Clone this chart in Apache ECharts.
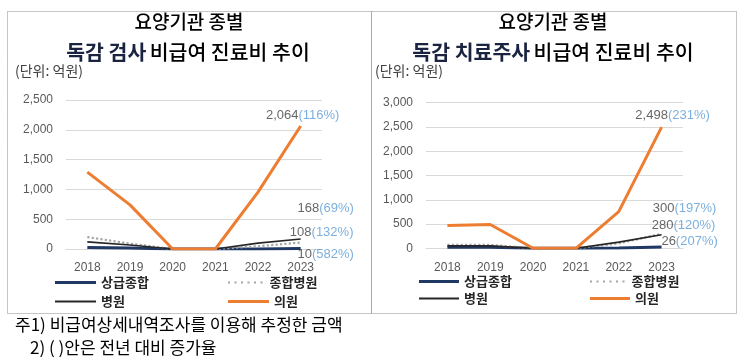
<!DOCTYPE html>
<html><head><meta charset="utf-8">
<script src="https://cdn.jsdelivr.net/npm/echarts@6/dist/echarts.min.js"></script>
<style>html,body{margin:0;padding:0;background:#fff}#c{width:745px;height:363px}</style>
</head><body><div id="c"></div>
<script>
// ---- data ----
const years = ['2018', '2019', '2020', '2021', '2022', '2023'];
const seriesNames = ['상급종합', '종합병원', '병원', '의원'];
// 독감 검사 (left)
const testTertiary = [25, 15, 0, 0, 1.5, 10];
const testGeneral = [200, 90, 0, 0, 46.5, 108];
const testHospital = [120, 67, 0, 0, 99, 168];
const testClinic = [1290, 740, 0, 0, 955, 2064];
const testGrowth = ['582%', '132%', '69%', '116%'];
// 독감 치료주사 (right)
const injTertiary = [20, 20, 0, 0, 8.5, 26];
const injGeneral = [70, 70, 0, 0, 101, 300];
const injHospital = [50, 50, 0, 0, 127, 280];
const injClinic = [470, 490, 0, 0, 755, 2498];
const injGrowth = ['207%', '197%', '120%', '231%'];
const leftTicks = { max: 2500, interval: 500 };
const rightTicks = { max: 3000, interval: 500 };

// ---- styles ----
const colors = ['#203864', '#A5A5A5', '#262626', '#ED7D31'];
const widths = [3, 2.2, 1.6, 3];
const types = ['solid', 'dotted', 'solid', 'solid'];
const FONT = '"Liberation Sans", Arial, sans-serif';
const KFONT = '"Noto Sans CJK KR", sans-serif';

const chart = echarts.init(document.getElementById('c'), null, { renderer: 'canvas' });

function fmt(v) { return v.toLocaleString('en-US'); }

function buildPanel(idx, sets, growth, ticks, grid, offsets) {
  const gi = idx;
  const xAxis = {
    type: 'category', data: years, gridIndex: gi, boundaryGap: true,
    axisLine: { show: true, lineStyle: { color: '#D9D9D9' } },
    axisTick: { show: false },
    axisLabel: { color: '#595959', fontFamily: FONT, fontSize: 12, margin: 13 }
  };
  const yAxis = {
    type: 'value', gridIndex: gi, min: 0, max: ticks.max, interval: ticks.interval,
    axisLine: { show: false }, axisTick: { show: false },
    splitLine: { lineStyle: { color: '#D9D9D9', width: 1 } },
    axisLabel: { color: '#595959', fontFamily: FONT, fontSize: 12, margin: 13,
      formatter: v => fmt(v) }
  };
  const series = sets.map((d, i) => ({
    name: seriesNames[i], type: 'line', xAxisIndex: gi, yAxisIndex: gi,
    data: d, symbol: 'none', z: 2 + (i === 2 ? 1 : 0) + (i === 3 ? 2 : 0),
    lineStyle: { color: colors[i], width: widths[i], type: types[i] },
    itemStyle: { color: colors[i] }
  }));
  const last = years.length - 1;
  const labelSeries = {
    type: 'scatter', xAxisIndex: gi, yAxisIndex: gi, z: 10, silent: true,
    symbol: 'circle', symbolSize: 1, itemStyle: { color: 'rgba(0,0,0,0)' },
    data: sets.map((d, i) => ({
      value: [last, d[last]],
      label: {
        show: true, position: 'inside', offset: offsets[i],
        formatter: '{v|' + fmt(d[last]) + '}{p|(' + growth[i] + ')}',
        rich: {
          v: { color: '#404040', fontFamily: FONT, fontSize: 13 },
          p: { color: '#5B9BD5', fontFamily: FONT, fontSize: 13 }
        }
      }
    }))
  };
  return { xAxis, yAxis, series: series.concat([labelSeries]), grid: Object.assign({ containLabel: false }, grid) };
}

const left = buildPanel(0, [testTertiary, testGeneral, testHospital, testClinic], testGrowth, leftTicks,
  { left: 66, top: 100, width: 256, height: 149 },
  [[25, 6], [21, -10], [25, -31], [2, -11]]);
const right = buildPanel(1, [injTertiary, injGeneral, injHospital, injClinic], injGrowth, rightTicks,
  { left: 426, top: 102.7, width: 257, height: 145.6 },
  [[28, -6], [23, -25], [22, -9], [11, -12]]);

// dotted legend icon
let dotPath = 'path://';
for (let k = 0; k < 6; k++) { const x0 = k * 6.5; dotPath += 'M' + x0 + ' 0h2v2h-2z'; }

function legends(x1, x2, y1, y2, w) {
  const pos = [[x1, y1], [x2, y1], [x1, y2], [x2, y2]];
  const icons = ['rect', dotPath, 'rect', 'rect'];
  const hs = [3, 2, 2, 3];
  const iw = [w, 34.5, w, w];
  return seriesNames.map((n, i) => ({
    data: [{ name: n, icon: icons[i] }], left: pos[i][0], top: pos[i][1] - 9,
    itemWidth: iw[i], itemHeight: hs[i],
    padding: 0, itemGap: 0, selectedMode: false,
    itemStyle: { color: colors[i], borderWidth: 0 },
    textStyle: { fontFamily: KFONT, fontSize: 13, color: '#262626', fontWeight: 'bold', padding: [0, 0, 0, i === 1 ? 2 : 0] }
  }));
}

const gfx = [
  { type: 'rect', shape: { x: 7.5, y: 11.5, width: 364, height: 302 },
    style: { fill: 'none', stroke: '#8C8C8C', lineWidth: 1, lineDash: [1, 1] }, silent: true },
  { type: 'rect', shape: { x: 371.5, y: 11.5, width: 365, height: 302 },
    style: { fill: 'none', stroke: '#8C8C8C', lineWidth: 1, lineDash: [1, 1] }, silent: true },
  // left titles
  { type: 'text', x: 189, y: 22, style: { text: '요양기관 종별', font: '500 19px ' + KFONT, fill: '#000', align: 'center', verticalAlign: 'middle' } },
  { type: 'text', x: 188, y: 52, style: {
      text: '{b|독감 검사} {n|비급여 진료비 추이}', align: 'center', verticalAlign: 'middle',
      rich: { b: { font: 'bold 20.5px ' + KFONT, fill: '#1A2440' }, n: { font: '500 20.5px ' + KFONT, fill: '#000' } } } },
  { type: 'text', x: 15, y: 71, style: { text: '(단위: 억원)', font: '14px ' + KFONT, fill: '#404040', verticalAlign: 'middle' } },
  // right titles
  { type: 'text', x: 553, y: 22, style: { text: '요양기관 종별', font: '500 19px ' + KFONT, fill: '#000', align: 'center', verticalAlign: 'middle' } },
  { type: 'text', x: 553, y: 52, style: {
      text: '{b|독감 치료주사} {n|비급여 진료비 추이}', align: 'center', verticalAlign: 'middle',
      rich: { b: { font: 'bold 20.5px ' + KFONT, fill: '#1A2440' }, n: { font: '500 20.5px ' + KFONT, fill: '#000' } } } },
  { type: 'text', x: 375, y: 71, style: { text: '(단위: 억원)', font: '14px ' + KFONT, fill: '#404040', verticalAlign: 'middle' } },
  // footnotes
  { type: 'text', x: 15, y: 325, style: { text: '주1) 비급여상세내역조사를 이용해 추정한 금액', font: '17px ' + KFONT, fill: '#000', verticalAlign: 'middle' } },
  { type: 'text', x: 30, y: 348, style: { text: '2) ( )안은 전년 대비 증가율', font: '17px ' + KFONT, fill: '#000', verticalAlign: 'middle' } }
];

chart.setOption({
  animation: false,
  backgroundColor: '#fff',
  grid: [left.grid, right.grid],
  xAxis: [left.xAxis, right.xAxis],
  yAxis: [left.yAxis, right.yAxis],
  legend: legends(55, 228, 285, 304, 41).concat(legends(419, 590, 284, 301, 40)),
  series: left.series.concat(right.series),
  graphic: gfx
});
</script></body></html>
